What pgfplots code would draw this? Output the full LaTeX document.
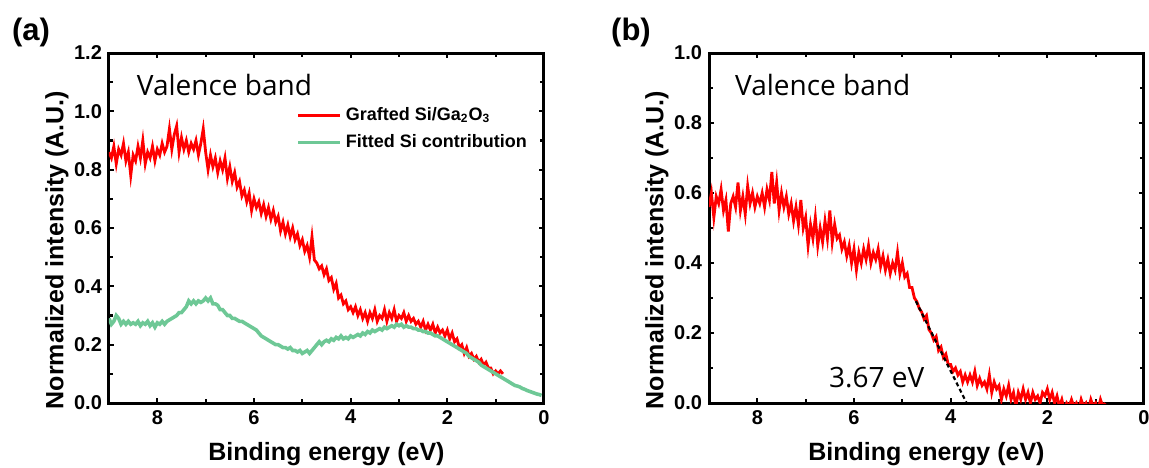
\documentclass[border=0pt]{standalone}
\usepackage{fontspec}
\setmainfont{Liberation Sans}
\newfontfamily\osans{Open Sans}
\usepackage{pgfplots}
\usepackage{pgfplotstable}
\pgfplotsset{compat=1.18}

\definecolor{vbred}{RGB}{255,0,0}
\definecolor{vbgreen}{RGB}{110,200,150}

% (a) grafted Si/Ga2O3
\pgfplotstableread{
E I
9.00 0.86
8.95 0.84
8.90 0.88
8.85 0.82
8.80 0.87
8.75 0.85
8.70 0.89
8.65 0.83
8.60 0.86
8.55 0.78
8.50 0.85
8.45 0.83
8.40 0.88
8.35 0.84
8.30 0.90
8.25 0.82
8.20 0.86
8.15 0.84
8.10 0.88
8.05 0.83
8.00 0.87
7.95 0.85
7.90 0.89
7.85 0.86
7.80 0.88
7.75 0.94
7.70 0.87
7.65 0.92
7.60 0.95
7.55 0.86
7.50 0.91
7.45 0.87
7.40 0.90
7.35 0.86
7.30 0.89
7.25 0.87
7.20 0.90
7.15 0.85
7.10 0.89
7.05 0.94
7.00 0.86
6.95 0.80
6.90 0.85
6.85 0.81
6.80 0.84
6.75 0.79
6.70 0.83
6.65 0.80
6.60 0.84
6.55 0.77
6.50 0.81
6.45 0.76
6.40 0.79
6.35 0.74
6.30 0.76
6.25 0.71
6.20 0.73
6.15 0.69
6.10 0.72
6.05 0.66
6.00 0.70
5.95 0.67
5.90 0.69
5.85 0.65
5.80 0.68
5.75 0.64
5.70 0.67
5.65 0.63
5.60 0.66
5.55 0.62
5.50 0.64
5.45 0.59
5.40 0.62
5.35 0.58
5.30 0.61
5.25 0.57
5.20 0.60
5.15 0.56
5.10 0.58
5.05 0.54
5.00 0.56
4.95 0.52
4.90 0.54
4.85 0.50
4.80 0.57
4.75 0.49
4.70 0.48
4.65 0.46
4.60 0.47
4.55 0.44
4.50 0.46
4.45 0.42
4.40 0.43
4.35 0.39
4.30 0.41
4.25 0.36
4.20 0.37
4.15 0.34
4.10 0.35
4.05 0.32
4.00 0.33
3.95 0.31
3.90 0.33
3.85 0.30
3.80 0.32
3.75 0.29
3.70 0.31
3.65 0.28
3.60 0.31
3.55 0.29
3.50 0.32
3.45 0.28
3.40 0.30
3.35 0.29
3.30 0.32
3.25 0.28
3.20 0.31
3.15 0.29
3.10 0.32
3.05 0.28
3.00 0.30
2.95 0.29
2.90 0.31
2.85 0.28
2.80 0.30
2.75 0.28
2.70 0.29
2.65 0.27
2.60 0.28
2.55 0.26
2.50 0.28
2.45 0.25
2.40 0.27
2.35 0.25
2.30 0.27
2.25 0.24
2.20 0.26
2.15 0.24
2.10 0.25
2.05 0.23
2.00 0.25
1.95 0.22
1.90 0.24
1.85 0.21
1.80 0.22
1.75 0.19
1.70 0.20
1.65 0.17
1.60 0.19
1.55 0.16
1.50 0.17
1.45 0.15
1.40 0.16
1.35 0.14
1.30 0.15
1.25 0.13
1.20 0.14
1.15 0.12
1.10 0.12
1.05 0.10
1.00 0.11
0.95 0.10
0.90 0.11
0.85 0.10
}\grafted

% (a) fitted Si contribution
\pgfplotstableread{
E I
9.00 0.29
8.95 0.27
8.90 0.28
8.85 0.30
8.80 0.29
8.75 0.27
8.70 0.28
8.65 0.27
8.60 0.28
8.55 0.27
8.50 0.275
8.45 0.27
8.40 0.28
8.35 0.265
8.30 0.275
8.25 0.27
8.20 0.28
8.15 0.265
8.10 0.275
8.05 0.26
8.00 0.275
7.95 0.27
7.90 0.28
7.85 0.27
7.80 0.28
7.75 0.285
7.70 0.29
7.65 0.295
7.60 0.30
7.55 0.31
7.50 0.31
7.45 0.32
7.40 0.33
7.35 0.35
7.30 0.34
7.25 0.35
7.20 0.34
7.15 0.35
7.10 0.345
7.05 0.35
7.00 0.36
6.95 0.35
6.90 0.36
6.85 0.34
6.80 0.34
6.75 0.335
6.70 0.32
6.65 0.32
6.60 0.31
6.55 0.30
6.50 0.30
6.45 0.29
6.40 0.29
6.35 0.285
6.30 0.28
6.25 0.28
6.20 0.275
6.15 0.27
6.10 0.265
6.05 0.26
6.00 0.255
5.95 0.25
5.90 0.24
5.85 0.23
5.80 0.225
5.75 0.22
5.70 0.215
5.65 0.21
5.60 0.205
5.55 0.20
5.50 0.20
5.45 0.195
5.40 0.19
5.35 0.19
5.30 0.185
5.25 0.19
5.20 0.18
5.15 0.18
5.10 0.175
5.05 0.18
5.00 0.17
4.95 0.175
4.90 0.18
4.85 0.17
4.80 0.18
4.75 0.19
4.70 0.20
4.65 0.21
4.60 0.20
4.55 0.21
4.50 0.215
4.45 0.21
4.40 0.22
4.35 0.215
4.30 0.225
4.25 0.22
4.20 0.23
4.15 0.22
4.10 0.225
4.05 0.22
4.00 0.23
3.95 0.225
3.90 0.23
3.85 0.235
3.80 0.23
3.75 0.24
3.70 0.235
3.65 0.245
3.60 0.24
3.55 0.25
3.50 0.245
3.45 0.25
3.40 0.255
3.35 0.25
3.30 0.26
3.25 0.255
3.20 0.26
3.15 0.265
3.10 0.26
3.05 0.27
3.00 0.265
2.95 0.27
2.90 0.26
2.85 0.265
2.80 0.26
2.75 0.26
2.70 0.255
2.65 0.255
2.60 0.25
2.55 0.25
2.50 0.245
2.45 0.245
2.40 0.24
2.35 0.24
2.30 0.235
2.25 0.23
2.20 0.23
2.15 0.225
2.10 0.22
2.05 0.215
2.00 0.21
1.95 0.205
1.90 0.20
1.85 0.195
1.80 0.19
1.75 0.185
1.70 0.18
1.65 0.175
1.60 0.17
1.55 0.16
1.50 0.155
1.45 0.15
1.40 0.145
1.35 0.14
1.30 0.13
1.25 0.125
1.20 0.12
1.15 0.115
1.10 0.11
1.05 0.105
1.00 0.10
0.95 0.095
0.90 0.09
0.85 0.085
0.80 0.08
0.75 0.075
0.70 0.07
0.65 0.065
0.60 0.06
0.55 0.058
0.50 0.055
0.45 0.05
0.40 0.047
0.35 0.043
0.30 0.04
0.25 0.037
0.20 0.034
0.15 0.031
0.10 0.029
0.05 0.026
}\fitted

% (b) valence band
\pgfplotstableread{
E I
9.00 0.56
8.95 0.60
8.90 0.53
8.85 0.59
8.80 0.57
8.75 0.61
8.70 0.55
8.65 0.58
8.60 0.49
8.55 0.57
8.50 0.59
8.45 0.56
8.40 0.63
8.35 0.55
8.30 0.59
8.25 0.54
8.20 0.62
8.15 0.57
8.10 0.60
8.05 0.56
8.00 0.59
7.95 0.57
7.90 0.60
7.85 0.56
7.80 0.61
7.75 0.58
7.70 0.66
7.65 0.57
7.60 0.63
7.55 0.55
7.50 0.60
7.45 0.56
7.40 0.59
7.35 0.54
7.30 0.57
7.25 0.52
7.20 0.56
7.15 0.51
7.10 0.58
7.05 0.50
7.00 0.53
6.95 0.45
6.90 0.51
6.85 0.47
6.80 0.53
6.75 0.45
6.70 0.50
6.65 0.46
6.60 0.52
6.55 0.47
6.50 0.55
6.45 0.46
6.40 0.51
6.35 0.47
6.30 0.48
6.25 0.44
6.20 0.46
6.15 0.42
6.10 0.45
6.05 0.40
6.00 0.44
5.95 0.38
5.90 0.43
5.85 0.40
5.80 0.44
5.75 0.41
5.70 0.45
5.65 0.40
5.60 0.43
5.55 0.41
5.50 0.44
5.45 0.39
5.40 0.42
5.35 0.38
5.30 0.41
5.25 0.37
5.20 0.40
5.15 0.38
5.10 0.43
5.05 0.37
5.00 0.40
4.95 0.36
4.90 0.37
4.85 0.33
4.80 0.33
4.75 0.30
4.70 0.29
4.65 0.27
4.60 0.26
4.55 0.24
4.50 0.25
4.45 0.21
4.40 0.20
4.35 0.18
4.30 0.19
4.25 0.15
4.20 0.16
4.15 0.13
4.10 0.14
4.05 0.11
4.00 0.11
3.95 0.09
3.90 0.10
3.85 0.08
3.80 0.09
3.75 0.06
3.70 0.08
3.65 0.06
3.60 0.08
3.55 0.06
3.50 0.09
3.45 0.05
3.40 0.07
3.35 0.05
3.30 0.06
3.25 0.04
3.20 0.08
3.15 0.03
3.10 0.06
3.05 0.04
3.00 0.05
2.95 0.01
2.90 0.04
2.85 0.02
2.80 0.05
2.75 0.01
2.70 0.03
2.65 -0.01
2.60 0.03
2.55 0.01
2.50 0.04
2.45 0.01
2.40 0.03
2.35 0.00
2.30 0.03
2.25 0.01
2.20 0.02
2.15 0.00
2.10 0.03
2.05 0.02
2.00 0.04
1.95 0.01
1.90 0.03
1.85 0.00
1.80 0.02
1.75 -0.01
1.70 0.01
1.65 -0.02
1.60 0.00
1.55 -0.01
1.50 0.01
1.45 -0.01
1.40 0.00
1.35 -0.02
1.30 0.01
1.25 -0.01
1.20 0.00
1.15 -0.02
1.10 0.01
1.05 -0.01
1.00 0.00
0.95 -0.02
0.90 0.01
0.85 -0.01
0.80 0.00
}\valence

\pgfplotsset{
  vbaxis/.style={
    width=217.5pt, height=175pt, scale only axis,
    x dir=reverse, xmin=0, xmax=9,
    xtick={0,2,4,6,8}, minor x tick num=1,
    minor y tick num=1,
    xtick pos=both, ytick pos=both,
    xticklabel pos=lower, yticklabel pos=left,
    tick align=inside,
    axis line style={line width=1.5pt},
    every tick/.style={black, line width=1.1pt},
    major tick length=2.5pt, minor tick length=1.8pt,
    tick label style={font=\bfseries\fontsize{10}{12}\selectfont},
    /pgf/number format/assume math mode=true,
    yticklabel style={/pgf/number format/.cd, fixed, fixed zerofill, precision=1},
    xlabel={Binding energy (eV)},
    ylabel={Normalized intensity (A.U.)},
    label style={font=\bfseries\fontsize{12.5}{14}\selectfont},
    xlabel style={at={(axis description cs:0.5,-0.163)}, anchor=base},
    ylabel style={at={(axis description cs:-0.1195,0.437)}, anchor=center},
  }
}

\begin{document}
\begin{tikzpicture}
\begin{axis}[vbaxis,
    at={(54.5pt,32pt)}, anchor=south west,
    ymin=0, ymax=1.2, ytick={0,0.2,0.4,0.6,0.8,1.0,1.2},
    legend cell align=left,
    legend image code/.code={\draw[#1] (0pt,0pt) -- (21pt,0pt);},
    legend style={at={(axis description cs:0.416,0.869)}, anchor=north west,
      draw=none, fill=none, row sep=1.5pt,
      font=\bfseries\fontsize{9}{10}\selectfont},
]
\addplot[vbred, line width=1.4pt] table[x=E, y=I] {\grafted};
\addplot[vbgreen, line width=1.8pt] table[x=E, y=I] {\fitted};
\legend{Grafted Si/Ga\textsubscript{2}O\textsubscript{3}, Fitted Si contribution}
\node[anchor=west, font=\osans\fontsize{14}{16}\selectfont]
  at (axis description cs:0.048,0.909) {Valence band};
\end{axis}

\begin{axis}[vbaxis,
    at={(354.5pt,32pt)}, anchor=south west,
    ymin=0, ymax=1.0, ytick={0,0.2,0.4,0.6,0.8,1.0},
]
\addplot[vbred, line width=1.4pt] table[x=E, y=I] {\valence};
\addplot[black, line width=1.1pt, dash pattern=on 2pt off 1.5pt] coordinates {(4.72,0.291) (3.67,0)};
\node[anchor=west, font=\osans\fontsize{14}{16}\selectfont]
  at (axis description cs:0.044,0.909) {Valence band};
\node[anchor=west, font=\osans\fontsize{14}{16}\selectfont]
  at (axis description cs:0.26,0.074) {3.67 eV};
\end{axis}

\node[font=\bfseries\fontsize{15.5}{17}\selectfont] at (15.5pt,217.5pt) {(a)};
\node[font=\bfseries\fontsize{15.5}{17}\selectfont] at (315.5pt,217.5pt) {(b)};

\pgfresetboundingbox
\path[use as bounding box] (0,0) rectangle (574.5pt,233.5pt);
\end{tikzpicture}
\end{document}
